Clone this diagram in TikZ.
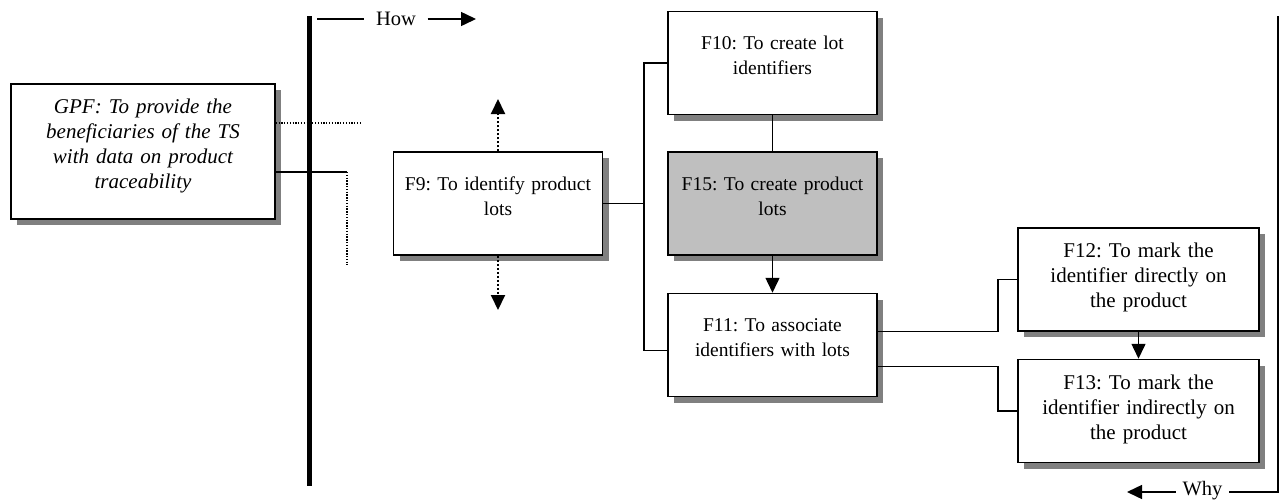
\documentclass[tikz,border=0pt]{standalone}
\usepackage{fontspec}
\setmainfont{Liberation Serif}
\frenchspacing
\usetikzlibrary{positioning,shadows,arrows.meta}

\begin{document}
\begin{tikzpicture}[x=1pt,y=-1pt,
  >={Triangle[length=15pt,width=14pt]},
  func/.style={draw,line width=1.5pt,fill=white,inner sep=0pt,align=center,
    drop shadow={shadow xshift=6pt,shadow yshift=-6pt,fill=black!50,opacity=1}},
  mid/.style={func,text width=209pt,text height=38pt,text depth=65pt,
    font=\fontsize{19.5}{25}\selectfont},
  leaf/.style={func,text width=241pt,text height=29.5pt,text depth=73.5pt,
    font=\fontsize{21}{25}\selectfont},
  sense/.style={text depth=0pt,font=\fontsize{20.5}{25}\selectfont},
  link/.style={line width=1.5pt},
  dots/.style={line width=1.3pt,dash pattern=on 1.3pt off 1.5pt},
  bigdots/.style={line width=2pt,dash pattern=on 2pt off 2pt}]
  \useasboundingbox (0,0) rectangle (1280,501);

  \node[func,text width=264pt,text height=29pt,text depth=106pt,
    font=\itshape\fontsize{21}{25}\selectfont] (gpf) at (143,151.5)
    {GPF: To provide the\\beneficiaries of the TS\\with data on product\\traceability};
  \node[mid] (f9) at (498,203.5) {F9: To identify product\\lots};
  \node[mid,fill=black!25,right=64pt of f9] (f15) {F15: To create product\\lots};
  \node[mid,above=36pt of f15] (f10) {F10: To create lot\\identifiers};
  \node[mid,below=37pt of f15] (f11) {F11: To associate\\identifiers with lots};
  \node[leaf] (f12) at (1138.5,279.5) {F12: To mark the\\identifier directly on\\the product};
  \node[leaf,below=27pt of f12] (f13) {F13: To mark the\\identifier indirectly on\\the product};

  \node[sense,inner xsep=11.5pt] (how) at (396,19) {How};
  \node[sense,inner xsep=6.5pt] (why) at (1202.5,488.5) {Why};

  \coordinate (bartop) at (309,16);
  \coordinate (barbot) at (309,486);
  \coordinate (howa) at (317,19);
  \coordinate (howb) at (476,19);
  \coordinate (whya) at (1278,16);
  \coordinate (whyb) at (1278,492);
  \coordinate (whyc) at (1127,492);
  \coordinate (gpfa) at (347,172);
  \coordinate (gpfb) at (347,265);
  \coordinate (gpfc) at (360,123);
  \coordinate (f9up) at (498,99);
  \coordinate (f9dn) at (498,310);
  \coordinate (comb) at (644,203.5);

  \draw[line width=5pt] (bartop) -- (barbot);
  \draw[link] (howa) -- (how.west);
  \draw[link,->] (how.east) -- (howb);
  \draw[link] (whya) -- (whyb) -- (whyb -| why.east);
  \draw[link,->] (whyb -| why.west) -- (whyc);

  \draw[link] (gpf.east |- gpfa) -- (gpfa);
  \draw[dots] (gpfa) -- (gpfb);
  \draw[dots] (gpf.east |- gpfc) -- (gpfc);

  \draw[bigdots,->] (f9.north) -- (f9up);
  \draw[bigdots,->] (f9.south) -- (f9dn);

  \draw[link] (f9.east) -- (comb);
  \draw[link] (f10.west) -| (comb) |- ([yshift=-5.5pt]f11.west);
  \draw[link] (f10.south) -- (f15.north);
  \draw[link,->] (f15.south) -- (f11.north);
  \draw[link] ([yshift=13.5pt]f11.east) -- ++(120,0) |- (f12.west);
  \draw[link] ([yshift=-21.5pt]f11.east) -- ++(120,0) |- (f13.west);
  \draw[link,->] (f12.south) -- (f13.north);
\end{tikzpicture}
\end{document}
